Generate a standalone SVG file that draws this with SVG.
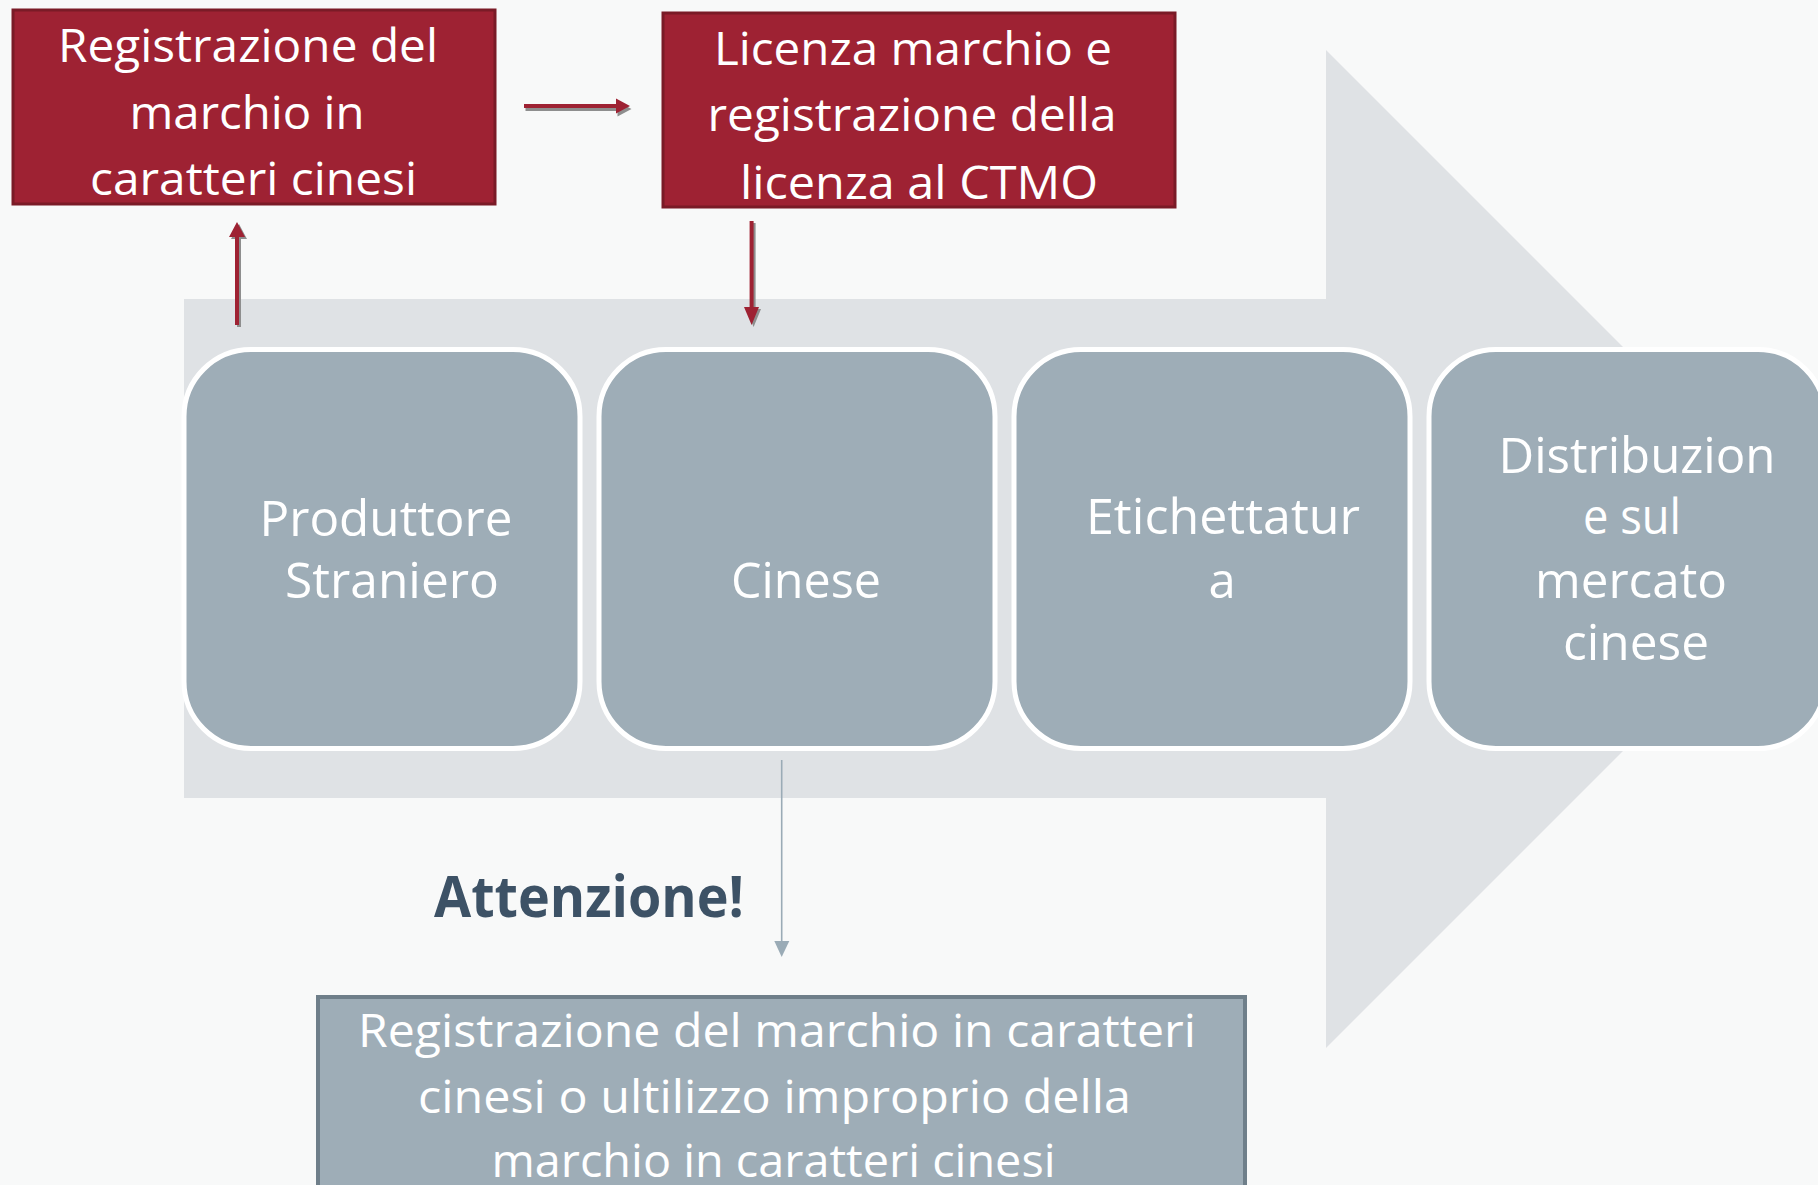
<svg xmlns="http://www.w3.org/2000/svg" xmlns:xlink="http://www.w3.org/1999/xlink" width="1818" height="1185" viewBox="0 0 1818 1185">
  <defs>
    <style>
      .t { font-family: "Open Sans", "Liberation Sans", sans-serif; fill: #ffffff; text-anchor: middle; }
      .red { font-size: 45px; }
      .stp { font-size: 49px; }
      .bot { font-size: 45px; }
      .redbox { fill: #9e2233; stroke: #7a1b27; stroke-width: 3; }
      .step { fill: #9eadb7; stroke: #ffffff; stroke-width: 5; }
      .warn { fill: #9eadb7; stroke: #6f7f8a; stroke-width: 4; }
      .ra { fill: #9e2233; stroke: none; }
      .sh { fill: #8e8e8e; stroke: none; }
    </style>
    <path id="arrH" d="M524,104 L616,104 L616,98.5 L630,106 L616,113.5 L616,108 L524,108 Z"/>
    <path id="arrU" d="M235,325 L235,237 L229,237 L237,222 L245,237 L239,237 L239,325 Z"/>
    <path id="arrD" d="M749.6,221 L749.6,307 L744,307 L751.6,325 L759,307 L753.6,307 L753.6,221 Z"/>
  </defs>

  <rect x="0" y="0" width="1818" height="1185" fill="#f8f9f9"/>

  <g id="big-arrow">
    <polygon points="184,299 1326,299 1326,50 1825,549 1326,1048 1326,798 184,798" fill="#dfe2e5"/>
  </g>

  <g id="node-registrazione">
    <rect class="redbox" x="13" y="10" width="482" height="194"/>
    <text class="t red" x="248" y="62" textLength="380" lengthAdjust="spacingAndGlyphs">Registrazione del</text>
    <text class="t red" x="247" y="128.5" textLength="235" lengthAdjust="spacingAndGlyphs">marchio in</text>
    <text class="t red" x="253.5" y="194.5" textLength="327" lengthAdjust="spacingAndGlyphs">caratteri cinesi</text>
  </g>

  <g id="node-licenza">
    <rect class="redbox" x="663" y="13" width="512" height="194"/>
    <text class="t red" x="913" y="65" textLength="398" lengthAdjust="spacingAndGlyphs">Licenza marchio e</text>
    <text class="t red" x="912" y="131" textLength="409" lengthAdjust="spacingAndGlyphs">registrazione della</text>
    <text class="t red" x="919" y="199" textLength="358" lengthAdjust="spacingAndGlyphs">licenza al CTMO</text>
  </g>

  <g id="node-produttore">
    <rect class="step" x="184" y="349.5" width="396" height="399" rx="67" ry="67"/>
    <text class="t stp" x="386" y="536" textLength="253" lengthAdjust="spacingAndGlyphs">Produttore</text>
    <text class="t stp" x="392" y="598" textLength="214" lengthAdjust="spacingAndGlyphs">Straniero</text>
  </g>

  <g id="node-cinese">
    <rect class="step" x="599" y="349.5" width="396" height="399" rx="67" ry="67"/>
    <text class="t stp" x="806" y="598" textLength="150" lengthAdjust="spacingAndGlyphs">Cinese</text>
  </g>

  <g id="node-etichettatura">
    <rect class="step" x="1014" y="349.5" width="396" height="399" rx="67" ry="67"/>
    <text class="t stp" x="1223" y="534" textLength="274" lengthAdjust="spacingAndGlyphs">Etichettatur</text>
    <text class="t stp" x="1222" y="598">a</text>
  </g>

  <g id="node-distribuzione">
    <rect class="step" x="1429" y="349.5" width="396" height="399" rx="67" ry="67"/>
    <text class="t stp" x="1637" y="473" textLength="277" lengthAdjust="spacingAndGlyphs">Distribuzion</text>
    <text class="t stp" x="1632" y="534" textLength="98" lengthAdjust="spacingAndGlyphs">e sul</text>
    <text class="t stp" x="1631" y="598" textLength="192" lengthAdjust="spacingAndGlyphs">mercato</text>
    <text class="t stp" x="1636" y="660" textLength="146" lengthAdjust="spacingAndGlyphs">cinese</text>
  </g>

  <g id="label-attenzione">
    <text x="434" y="917" font-family="'Open Sans', 'Liberation Sans', sans-serif" font-weight="bold" font-size="57" fill="#3d5266" textLength="310" lengthAdjust="spacingAndGlyphs">Attenzione!</text>
  </g>

  <g id="node-warning">
    <rect class="warn" x="318" y="997" width="927" height="200"/>
    <text class="t bot" x="777" y="1047" textLength="838" lengthAdjust="spacingAndGlyphs">Registrazione del marchio in caratteri</text>
    <text class="t bot" x="774.5" y="1113" textLength="713" lengthAdjust="spacingAndGlyphs">cinesi o ultilizzo improprio della</text>
    <text class="t bot" x="773.5" y="1177" textLength="564" lengthAdjust="spacingAndGlyphs">marchio in caratteri cinesi</text>
  </g>

  <g id="connectors">
    <use xlink:href="#arrH" class="sh" transform="translate(1.5,3)"/>
    <use xlink:href="#arrH" class="ra"/>
    <use xlink:href="#arrU" class="sh" transform="translate(2,2)"/>
    <use xlink:href="#arrU" class="ra"/>
    <use xlink:href="#arrD" class="sh" transform="translate(2,2)"/>
    <use xlink:href="#arrD" class="ra"/>
    <line x1="781.7" y1="760" x2="781.7" y2="942" stroke="#9aabb6" stroke-width="1.6"/>
    <polygon points="774.3,941 789.3,941 781.7,957" fill="#9aabb6"/>
  </g>
</svg>
